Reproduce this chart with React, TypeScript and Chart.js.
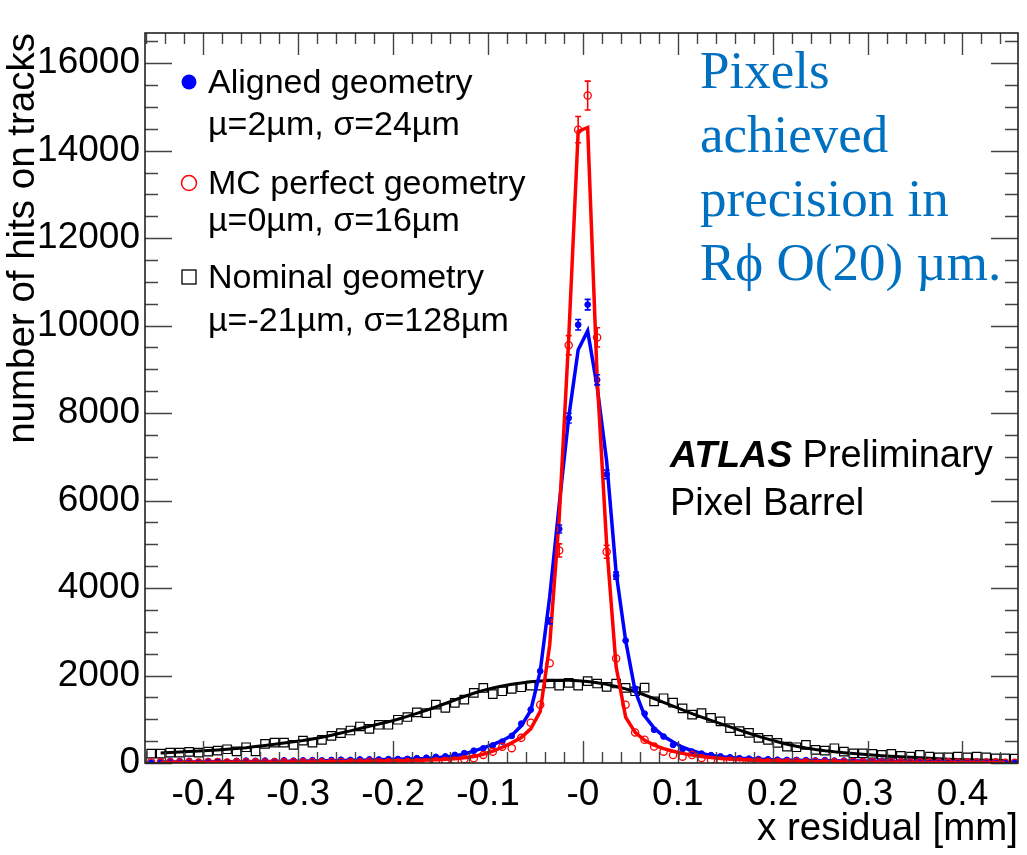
import React, { useEffect, useRef } from "react";
import { Chart, registerables } from "chart.js";

Chart.register(...registerables);

// ---------- histogram definition ----------
const BIN_LOW = -0.46;
const BIN_WIDTH = 0.01;
const X_MIN = -0.4615;
const X_MAX = 0.4585;
const Y_MIN = 0;
const Y_MAX = 16690;

const X_TICK_VALUES = [-0.4, -0.3, -0.2, -0.1, 0, 0.1, 0.2, 0.3, 0.4];
const X_TICK_LABELS = ["-0.4", "-0.3", "-0.2", "-0.1", "-0", "0.1", "0.2", "0.3", "0.4"];
const Y_TICK_VALUES = [0, 2000, 4000, 6000, 8000, 10000, 12000, 14000, 16000];
const Y_TICK_LABELS = ["0", "2000", "4000", "6000", "8000", "10000", "12000", "14000", "16000"];

// ---------- Aligned geometry (blue) ----------
const ALIGNED_DATA = [
  10, 45, 50, 45, 50, 20, 45, 40, 20, 50,
  55, 50, 55, 45, 60, 55, 60, 65, 60, 70,
  75, 70, 80, 85, 80, 90, 90, 95, 110, 120,
  140, 150, 185, 225, 280, 335, 400, 490, 620, 900,
  1220, 2100, 3250, 5350, 7885, 10020, 10480, 8760, 6600, 4285,
  2800, 1700, 1130, 760, 605, 414, 320, 260, 215, 180,
  150, 130, 110, 100, 90, 85, 75, 70, 70, 65,
  60, 65, 55, 55, 50, 50, 45, 50, 40, 45,
  40, 40, 35, 40, 35, 30, 35, 30, 30, 25,
  20, 15,
];
const ALIGNED_FIT = [
  null, 20, 21, 22, 23, 24, 25, 27, 28, 30,
  31, 33, 35, 37, 39, 42, 44, 47, 50, 53,
  57, 61, 65, 70, 75, 80, 85, 90, 97, 105,
  118, 135, 160, 205, 270, 345, 420, 510, 630, 850,
  1200, 2100, 3800, 5900, 7900, 9450, 9880, 8600, 6900, 4350,
  2800, 1650, 1080, 800, 610, 480, 360, 280, 220, 175,
  145, 125, 108, 96, 86, 78, 70, 65, 61, 58,
  55, 52, 50, 48, 46, 44, 42, 40, 38, 36,
  34, 32, 30, 28, 27, 26, 24, 23, 22, 21,
  20, null,
];
const ALIGNED_ERR_BINS = [42, 43, 44, 45, 46, 47, 48, 49];
const ALIGNED_ERR = [70, 90, 110, 120, 120, 115, 100, 80];

// ---------- MC perfect geometry (red) ----------
const MC_DATA = [
  20, 15, 20, 10, 15, 10, 20, 25, 10, 15,
  20, 15, 10, 20, 15, 20, 15, 20, 15, 20,
  25, 15, 20, 30, 20, 15, 10, 25, 20, 10,
  40, 45, 60, 85, 110, 185, 260, 370, 340, 575,
  920, 1334, 2280, 4860, 9550, 14480, 15260, 9730, 4830, 2390,
  1334, 700, 530, 375, 260, 184, 145, 184, 115, 70,
  60, 50, 40, 30, 35, 20, 25, 20, 30, 15,
  25, 20, 15, 20, 25, 15, 20, 10, 20, 15,
  10, 20, 15, 10, 15, 10, 15, 10, 10, 15,
  5, 5,
];
const MC_FIT = [
  null, 12, 12, 13, 13, 14, 14, 15, 15, 16,
  17, 18, 19, 20, 21, 22, 23, 25, 27, 29,
  31, 33, 35, 38, 41, 45, 49, 54, 60, 67,
  75, 85, 97, 118, 150, 200, 270, 360, 460, 580,
  780, 1180, 2700, 5600, 9700, 14440, 14530, 8800, 5000, 2200,
  1050, 700, 520, 410, 330, 270, 220, 180, 150, 125,
  105, 90, 78, 68, 60, 53, 47, 42, 38, 34,
  31, 28, 26, 24, 22, 20, 19, 18, 17, 16,
  15, 14, 14, 13, 13, 12, 12, 11, 11, 10,
  10, null,
];
const MC_ERR_BINS = [43, 44, 45, 46, 47, 48];
const MC_ERR = [150, 220, 300, 330, 220, 150];

// ---------- Nominal geometry (black) ----------
const NOMINAL_DATA = [
  215, 215, 237, 237, 255, 237, 260, 283, 314, 265,
  360, 265, 437, 467, 467, 414, 513, 467, 529, 621,
  683, 743, 835, 782, 874, 874, 989, 1051, 1157, 1140,
  1334, 1258, 1373, 1449, 1603, 1718, 1575, 1640, 1695, 1732,
  1771, 1771, 1817, 1771, 1833, 1771, 1870, 1817, 1740, 1817,
  1718, 1640, 1725, 1410, 1480, 1380, 1250, 1104, 1140, 1030,
  950, 798, 730, 690, 575, 529, 460, 375, 360, 414,
  299, 283, 337, 260, 222, 222, 207, 184, 207, 161,
  145, 184, 145, 130, 130, 145, 130, 145, 130, 107,
  107, 100,
];
const NOMINAL_FIT = [
  null, 230, 240, 250, 262, 275, 288, 300, 315, 330,
  350, 375, 400, 428, 455, 485, 515, 550, 590, 635,
  685, 735, 790, 840, 890, 940, 1000, 1065, 1135, 1205,
  1280, 1360, 1440, 1520, 1595, 1660, 1715, 1760, 1800, 1830,
  1855, 1872, 1884, 1890, 1890, 1880, 1862, 1835, 1798, 1750,
  1695, 1630, 1555, 1470, 1385, 1300, 1215, 1130, 1050, 975,
  900, 825, 750, 680, 610, 545, 485, 430, 385, 345,
  310, 280, 255, 235, 215, 198, 182, 168, 155, 143,
  130, 118, 106, 96, 88, 80, 74, 69, 65, 61,
  58, null,
];

const SANS = '"Liberation Sans", Arial, Helvetica, sans-serif';
const SERIF = '"Liberation Serif", "Times New Roman", Times, serif';

const binCenter = (i: number) => BIN_LOW + (i + 0.5) * BIN_WIDTH;
const toXY = (vals: (number | null)[]) =>
  vals
    .map((v, i) => (v === null ? null : { x: binCenter(i), y: v }))
    .filter((p) => p !== null) as { x: number; y: number }[];

const overlayPlugin = {
  id: "atlasOverlay",
  afterDatasetsDraw(chart: any) {
    const { ctx, scales } = chart;
    const xs = scales.x;
    const ys = scales.y;
    const drawErr = (bins: number[], vals: number[], errs: number[], color: string) => {
      ctx.save();
      ctx.strokeStyle = color;
      ctx.lineWidth = 1.6;
      bins.forEach((b, k) => {
        const cx = xs.getPixelForValue(binCenter(b));
        const v = vals[b];
        const e = errs[k];
        const y1 = ys.getPixelForValue(v + e);
        const y2 = ys.getPixelForValue(v - e);
        ctx.beginPath();
        ctx.moveTo(cx, y1);
        ctx.lineTo(cx, y2);
        ctx.moveTo(cx - 3, y1);
        ctx.lineTo(cx + 3, y1);
        ctx.moveTo(cx - 3, y2);
        ctx.lineTo(cx + 3, y2);
        ctx.stroke();
      });
      ctx.restore();
    };
    drawErr(ALIGNED_ERR_BINS, ALIGNED_DATA, ALIGNED_ERR, "#0000ff");
    drawErr(MC_ERR_BINS, MC_DATA, MC_ERR, "#ff0000");
  },
  afterDraw(chart: any) {
    const { ctx, scales, chartArea } = chart;
    const xs = scales.x;
    const ys = scales.y;
    const { left, right, top, bottom } = chartArea;
    ctx.save();
    // ticks
    ctx.strokeStyle = "#444";
    ctx.lineWidth = 1.4;
    ctx.beginPath();
    for (let k = -23; k <= 22; k++) {
      const v = k * 0.02;
      const major = k % 5 === 0;
      const px = Math.round(xs.getPixelForValue(v)) + 0.5;
      const len = major ? 22 : 11;
      ctx.moveTo(px, bottom);
      ctx.lineTo(px, bottom - len);
      ctx.moveTo(px, top);
      ctx.lineTo(px, top + len);
    }
    for (let k = 0; k * 500 <= Y_MAX; k++) {
      const v = k * 500;
      const major = v % 2000 === 0;
      const py = Math.round(ys.getPixelForValue(v)) + 0.5;
      const len = major ? 27 : 13;
      ctx.moveTo(left, py);
      ctx.lineTo(left + len, py);
      ctx.moveTo(right, py);
      ctx.lineTo(right - len, py);
    }
    ctx.stroke();
    // frame
    ctx.strokeStyle = "#222";
    ctx.lineWidth = 1.6;
    ctx.strokeRect(left, top, right - left, bottom - top);

    // legend
    ctx.fillStyle = "#0000ff";
    ctx.beginPath();
    ctx.arc(189, 82, 7.5, 0, Math.PI * 2);
    ctx.fill();
    ctx.strokeStyle = "#ff0000";
    ctx.lineWidth = 1.5;
    ctx.beginPath();
    ctx.arc(189, 183, 7.5, 0, Math.PI * 2);
    ctx.stroke();
    ctx.strokeStyle = "#000";
    ctx.lineWidth = 1.3;
    ctx.strokeRect(182, 270, 14, 14);

    ctx.fillStyle = "#000";
    ctx.textAlign = "left";
    ctx.textBaseline = "alphabetic";
    ctx.font = `34px ${SANS}`;
    ctx.fillText("Aligned geometry", 208, 93);
    ctx.fillText("\u00b5=2\u00b5m, \u03c3=24\u00b5m", 208, 135);
    ctx.fillText("MC perfect geometry", 208, 194);
    ctx.fillText("\u00b5=0\u00b5m, \u03c3=16\u00b5m", 208, 231);
    ctx.fillText("Nominal geometry", 208, 288);
    ctx.fillText("\u00b5=-21\u00b5m, \u03c3=128\u00b5m", 208, 331);

    // ATLAS label
    ctx.font = `italic bold 37.5px ${SANS}`;
    ctx.fillText("ATLAS", 670, 467);
    const w = ctx.measureText("ATLAS ").width;
    ctx.font = `38px ${SANS}`;
    ctx.fillText("Preliminary", 670 + w, 467);
    ctx.fillText("Pixel Barrel", 670, 515);

    // blue annotation
    ctx.fillStyle = "#0070c0";
    ctx.font = `53px ${SERIF}`;
    ctx.fillText("Pixels", 700, 88);
    ctx.fillText("achieved", 700, 152);
    ctx.fillText("precision in", 700, 216);
    ctx.fillText("R\u03d5 O(20) \u00b5m.", 700, 280);
    ctx.restore();
  },
};

export default function App() {
  const canvasRef = useRef<HTMLCanvasElement | null>(null);

  useEffect(() => {
    const canvas = canvasRef.current;
    if (!canvas) return;
    const chart = new Chart(canvas, {
      type: "scatter",
      data: {
        datasets: [
          {
            label: "MC fit",
            data: toXY(MC_FIT),
            showLine: true,
            borderColor: "#ff0000",
            borderWidth: 3.5,
            pointRadius: 0,
            tension: 0,
          },
          {
            label: "MC perfect geometry",
            data: toXY(MC_DATA),
            showLine: false,
            pointStyle: "circle",
            pointRadius: 3.6,
            pointBorderWidth: 1.3,
            borderColor: "#ff0000",
            backgroundColor: "rgba(0,0,0,0)",
          },
          {
            label: "Aligned fit",
            data: toXY(ALIGNED_FIT),
            showLine: true,
            borderColor: "#0000ff",
            borderWidth: 3.5,
            pointRadius: 0,
            tension: 0,
          },
          {
            label: "Aligned geometry",
            data: toXY(ALIGNED_DATA),
            showLine: false,
            pointStyle: "circle",
            pointRadius: 2.9,
            pointBorderWidth: 1,
            borderColor: "#0000ff",
            backgroundColor: "#0000ff",
          },
          {
            label: "Nominal fit",
            data: toXY(NOMINAL_FIT),
            showLine: true,
            borderColor: "#000000",
            borderWidth: 3,
            pointRadius: 0,
            tension: 0,
          },
          {
            label: "Nominal geometry",
            data: toXY(NOMINAL_DATA),
            showLine: false,
            pointStyle: "rect",
            pointRadius: 6,
            pointBorderWidth: 1.2,
            borderColor: "#000000",
            backgroundColor: "rgba(0,0,0,0)",
          },
        ],
      },
      options: {
        responsive: false,
        animation: false,
        devicePixelRatio: 1,
        layout: { padding: { top: 33, right: 9, left: 0, bottom: 0 } },
        plugins: {
          legend: { display: false },
          tooltip: { enabled: false },
        },
        scales: {
          x: {
            type: "linear",
            min: X_MIN,
            max: X_MAX,
            grid: { display: false, drawTicks: false },
            border: { display: false },
            afterBuildTicks: (scale: any) => {
              scale.ticks = X_TICK_VALUES.map((v) => ({ value: v }));
            },
            ticks: {
              autoSkip: false,
              maxRotation: 0,
              minRotation: 0,
              padding: 10,
              color: "#000",
              font: { family: SANS, size: 37 },
              callback: (value: any) => {
                const i = X_TICK_VALUES.findIndex((v) => Math.abs(v - Number(value)) < 1e-9);
                return i >= 0 ? X_TICK_LABELS[i] : "";
              },
            },
            title: {
              display: true,
              text: "x residual [mm]",
              align: "end",
              color: "#000",
              font: { family: SANS, size: 38.5 },
              padding: { top: 0, bottom: 3 },
            },
            afterFit: (scale: any) => {
              scale.height = 92;
            },
          },
          y: {
            type: "linear",
            min: Y_MIN,
            max: Y_MAX,
            grid: { display: false, drawTicks: false },
            border: { display: false },
            afterBuildTicks: (scale: any) => {
              scale.ticks = Y_TICK_VALUES.map((v) => ({ value: v }));
            },
            ticks: {
              autoSkip: false,
              padding: 5,
              color: "#000",
              font: { family: SANS, size: 37 },
              callback: (value: any) => {
                const i = Y_TICK_VALUES.findIndex((v) => Math.abs(v - Number(value)) < 1e-6);
                return i >= 0 ? Y_TICK_LABELS[i] : "";
              },
            },
            title: {
              display: true,
              text: "number of hits on tracks",
              align: "end",
              color: "#000",
              font: { family: SANS, size: 38.5 },
              padding: { top: 0, bottom: 0 },
            },
            afterFit: (scale: any) => {
              scale.width = 145;
            },
          },
        },
      } as any,
      plugins: [overlayPlugin],
    });
    return () => chart.destroy();
  }, []);

  return (
    <div style={{ position: "absolute", left: 0, top: 0, width: 1027, height: 855, background: "#fff" }}>
      <canvas ref={canvasRef} width={1027} height={855} style={{ display: "block" }} />
    </div>
  );
}
